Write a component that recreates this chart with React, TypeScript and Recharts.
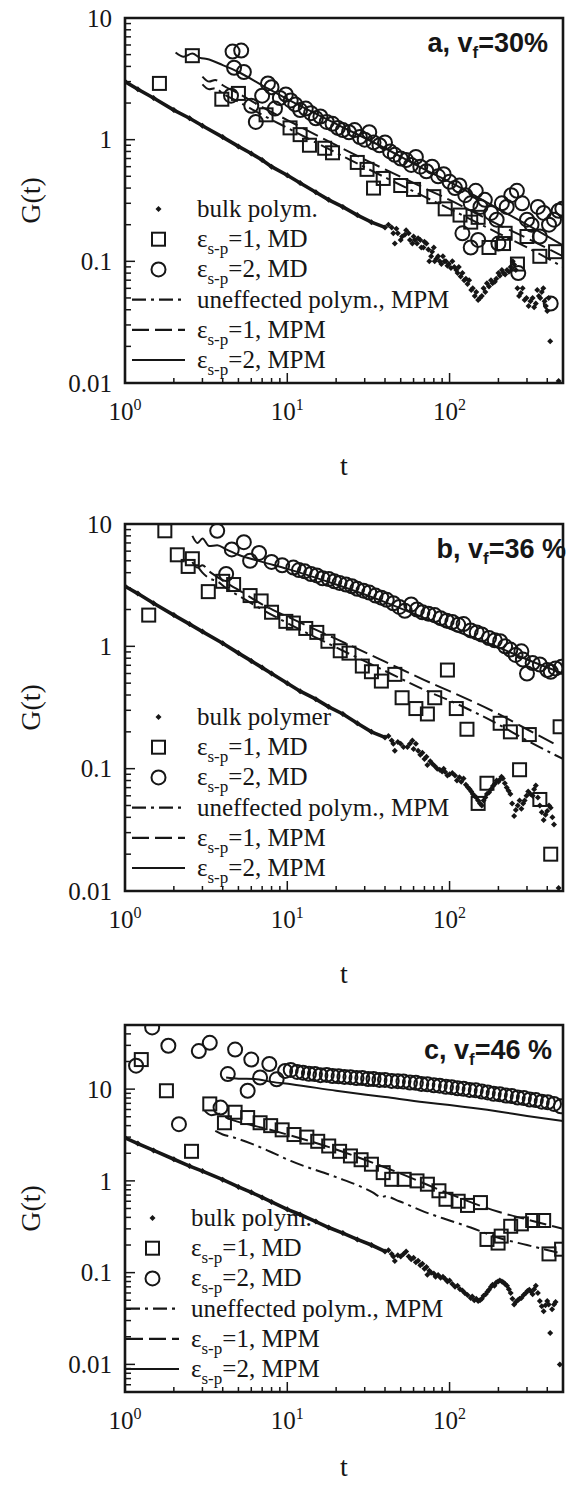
import React from "react";
import { ComposedChart, Line, Scatter, XAxis, YAxis, ReferenceArea } from "recharts";

// values, as [t, G(t)]

// ---- panel a, vf = 30% ----
const bulkLineA = [
  [1, 3.0], [1.2, 2.6], [1.5, 2.2], [2, 1.75], [2.5, 1.5], [3, 1.3], [4, 1.05], [5, 0.88],
  [6, 0.77], [7, 0.68], [8, 0.6], [10, 0.51], [12, 0.44], [15, 0.37], [18, 0.32], [22, 0.28],
  [27, 0.24], [33, 0.21], [40, 0.19],
];
const bulkDotsA = [
  [42, 0.2], [44, 0.19], [45, 0.17], [46, 0.14], [47, 0.185], [48, 0.17], [50, 0.15], [51, 0.16],
  [53, 0.165], [54, 0.18], [56, 0.17], [57, 0.15], [59, 0.14], [60, 0.16], [61, 0.15], [63, 0.14],
  [64, 0.155], [66, 0.15], [67, 0.13], [69, 0.13], [70, 0.145], [72, 0.14], [74, 0.125], [75, 0.1],
  [77, 0.11], [78, 0.12], [80, 0.13], [81, 0.1], [83, 0.105], [85, 0.11], [87, 0.1], [89, 0.095],
  [91, 0.11], [93, 0.1], [95, 0.1], [97, 0.092], [99, 0.095], [102, 0.088], [104, 0.1], [107, 0.09],
  [110, 0.085], [112, 0.08], [114, 0.09], [117, 0.075], [120, 0.08], [123, 0.07], [126, 0.072],
  [129, 0.065], [132, 0.07], [136, 0.058], [139, 0.06], [143, 0.052], [146, 0.056], [150, 0.048],
  [154, 0.05], [158, 0.052], [162, 0.06], [166, 0.056], [170, 0.066], [175, 0.062], [180, 0.07],
  [184, 0.066], [190, 0.068], [194, 0.072], [200, 0.08], [204, 0.076], [210, 0.085], [215, 0.08],
  [220, 0.078], [226, 0.085], [232, 0.082], [238, 0.09], [245, 0.1], [250, 0.094], [256, 0.085],
  [262, 0.06], [268, 0.052], [275, 0.055], [282, 0.06], [290, 0.048], [298, 0.05], [307, 0.043],
  [315, 0.047], [325, 0.05], [332, 0.042], [340, 0.045], [347, 0.058], [355, 0.052], [362, 0.05],
  [370, 0.056], [378, 0.06], [385, 0.047], [392, 0.043], [400, 0.039], [408, 0.05], [417, 0.022],
  [470, 0.0104],
];
const squaresA = [
  [1.63, 2.9], [2.6, 4.9], [3.95, 2.15], [5.0, 2.4], [7.4, 1.6], [10.4, 1.25], [12, 1.1], [13.7, 0.9],
  [17, 0.85], [19, 0.78], [27, 0.65], [31, 0.57], [34, 0.4], [39, 0.48], [50, 0.42], [60, 0.39],
  [80, 0.34], [94, 0.27], [116, 0.24], [135, 0.21], [150, 0.23], [175, 0.13], [215, 0.14], [220, 0.17],
  [262, 0.095], [300, 0.16], [360, 0.11], [450, 0.12],
];
const circlesA = [
  [4.6, 5.3], [5.2, 5.4], [4.7, 3.9], [5.4, 3.6], [4.5, 2.3], [6.0, 1.9], [6.4, 1.4], [7.0, 2.3],
  [7.6, 2.9], [8.0, 2.7], [8.4, 1.8], [9.0, 2.2], [9.8, 2.35], [10.5, 2.1], [11.2, 1.95], [12, 1.75],
  [13, 1.8], [14, 1.65], [15, 1.5], [16, 1.55], [17.5, 1.4], [19, 1.35], [20.5, 1.25], [22, 1.2],
  [24, 1.15], [26, 1.2], [28, 1.05], [30, 1.0], [32, 1.15], [34, 0.95], [37, 0.9], [40, 0.95],
  [43, 0.8], [46, 0.75], [50, 0.7], [54, 0.68], [58, 0.62], [62, 0.72], [66, 0.6], [72, 0.55],
  [78, 0.6], [85, 0.5], [92, 0.52], [100, 0.45], [108, 0.4], [115, 0.42], [125, 0.35], [135, 0.3],
  [145, 0.38], [155, 0.28], [165, 0.32], [180, 0.25], [195, 0.22], [210, 0.3], [225, 0.28],
  [240, 0.35], [260, 0.38], [280, 0.3], [300, 0.22], [320, 0.2], [350, 0.28], [380, 0.25],
  [410, 0.2], [440, 0.22], [470, 0.26], [495, 0.27], [120, 0.17], [135, 0.13], [150, 0.15],
  [200, 0.14], [265, 0.08], [360, 0.16], [420, 0.045],
];
const solidA = [
  [2.05, 5.2], [2.3, 4.8], [2.6, 5.1], [2.9, 4.7], [3.2, 4.6], [4, 4.1], [5, 3.6], [7, 2.8],
  [10, 2.15], [20, 1.35], [40, 0.85], [70, 0.57], [100, 0.45], [200, 0.27], [300, 0.2], [500, 0.135],
];
const dashedA = [
  [3.0, 3.3], [3.3, 3.0], [3.6, 3.1], [4, 2.8], [5, 2.4], [7, 1.85], [10, 1.45], [20, 0.9],
  [40, 0.57], [70, 0.4], [100, 0.32], [200, 0.2], [300, 0.155], [500, 0.11],
];
const dashDotA = [
  [3.0, 2.85], [3.3, 2.6], [3.6, 2.65], [4, 2.4], [5, 2.05], [7, 1.6], [10, 1.25], [20, 0.78],
  [40, 0.49], [70, 0.34], [100, 0.27], [200, 0.17], [300, 0.13], [500, 0.09],
];

// ---- panel b, vf = 36 % ----
const bulkLineB = [
  [1, 3.1], [1.2, 2.7], [1.5, 2.25], [2, 1.8], [2.5, 1.52], [3, 1.32], [4, 1.06], [5, 0.88],
  [6, 0.76], [7, 0.67], [8, 0.6], [10, 0.5], [12, 0.43], [15, 0.37], [18, 0.32], [22, 0.28],
  [27, 0.235], [33, 0.2], [40, 0.18],
];
const bulkDotsB = [
  [42, 0.185], [44, 0.17], [45, 0.16], [46, 0.14], [48, 0.165], [50, 0.16], [52, 0.15], [55, 0.15],
  [57, 0.16], [59, 0.17], [60, 0.145], [62, 0.16], [64, 0.14], [66, 0.13], [68, 0.135], [70, 0.12],
  [72, 0.125], [73, 0.107], [76, 0.115], [78, 0.11], [81, 0.105], [84, 0.1], [87, 0.098], [90, 0.095],
  [92, 0.1], [94, 0.094], [97, 0.088], [100, 0.09], [104, 0.092], [108, 0.088], [111, 0.08],
  [115, 0.085], [118, 0.078], [122, 0.083], [126, 0.074], [130, 0.07], [133, 0.068], [136, 0.065],
  [139, 0.062], [142, 0.06], [146, 0.058], [150, 0.055], [154, 0.052], [158, 0.05], [162, 0.055],
  [166, 0.058], [170, 0.062], [175, 0.064], [180, 0.068], [185, 0.072], [190, 0.075], [195, 0.08],
  [200, 0.078], [205, 0.082], [209, 0.086], [213, 0.083], [219, 0.076], [225, 0.07], [231, 0.066],
  [237, 0.062], [243, 0.052], [250, 0.041], [256, 0.046], [263, 0.05], [270, 0.055], [277, 0.047],
  [284, 0.052], [290, 0.055], [298, 0.06], [305, 0.065], [315, 0.062], [325, 0.06], [332, 0.068],
  [340, 0.073], [350, 0.058], [360, 0.05], [370, 0.044], [380, 0.038], [390, 0.042], [400, 0.045],
  [410, 0.05], [420, 0.048], [430, 0.04], [440, 0.035], [470, 0.0106],
];
const squaresB = [
  [1.4, 1.8], [1.76, 8.8], [2.1, 5.6], [2.6, 5.2], [2.45, 4.5], [3.26, 2.8], [4.0, 3.4], [4.67, 3.2],
  [5.9, 2.6], [6.9, 2.35], [8.0, 1.9], [9.8, 1.6], [10.9, 1.55], [13, 1.4], [15.2, 1.3], [17.8, 1.1],
  [21.2, 0.92], [24, 0.88], [29, 0.69], [33, 0.62], [38, 0.52], [46, 0.59], [51, 0.38], [62, 0.31],
  [73, 0.28], [81, 0.38], [97, 0.64], [110, 0.31], [128, 0.21], [150, 0.052], [170, 0.076],
  [205, 0.235], [237, 0.2], [270, 0.098], [310, 0.19], [360, 0.056], [420, 0.02], [480, 0.22],
];
const circlesB = [
  [3.7, 8.8], [4.2, 3.9], [4.55, 6.2], [5.4, 7.1], [5.9, 5.0], [6.7, 5.8], [8, 4.9], [9.3, 4.6],
  [10.9, 4.4], [11.8, 4.2], [12.8, 4.1], [14, 3.9], [15.2, 3.8], [16.5, 3.6], [18, 3.55], [19.5, 3.4],
  [21, 3.3], [23, 3.2], [25, 3.1], [27, 2.95], [29.5, 2.85], [32, 2.75], [35, 2.6], [38, 2.5],
  [41, 2.4], [45, 2.25], [49, 2.1], [53, 1.95], [58, 2.2], [63, 2.0], [68, 1.9], [74, 1.85],
  [81, 1.8], [88, 1.7], [96, 1.62], [104, 1.58], [113, 1.5], [122, 1.52], [135, 1.35], [147, 1.3],
  [158, 1.25], [175, 1.17], [190, 1.12], [205, 1.1], [220, 1.0], [237, 0.94], [255, 0.85],
  [277, 0.91], [283, 0.78], [300, 0.6], [325, 0.73], [360, 0.71], [400, 0.64], [420, 0.62],
  [450, 0.66], [490, 0.68],
];
const solidB = [
  [2.6, 8.0], [2.8, 7.0], [3.0, 7.6], [3.3, 6.6], [3.7, 6.7], [4.2, 6.2], [5, 5.6], [7, 4.9],
  [10, 4.3], [20, 3.2], [40, 2.3], [70, 1.7], [100, 1.4], [200, 0.98], [300, 0.78], [500, 0.6],
];
const dashedB = [
  [2.6, 4.9], [2.8, 4.4], [3.0, 4.6], [3.3, 4.1], [3.7, 3.7], [4.2, 3.3], [5, 2.9], [7, 2.2],
  [10, 1.75], [20, 1.15], [40, 0.75], [70, 0.53], [100, 0.43], [200, 0.28], [300, 0.21], [460, 0.155],
];
const dashDotB = [
  [2.8, 4.5], [3.0, 4.0], [3.3, 3.6], [3.7, 3.4], [4.2, 3.0], [5, 2.6], [7, 2.0], [10, 1.55],
  [20, 0.98], [40, 0.63], [70, 0.44], [100, 0.36], [200, 0.23], [300, 0.17], [500, 0.12],
];

// ---- panel c, vf = 46 % ----
const bulkLineC = [
  [1, 2.95], [1.2, 2.55], [1.5, 2.15], [2, 1.72], [2.5, 1.45], [3, 1.28], [4, 1.03], [5, 0.86],
  [6, 0.75], [7, 0.66], [8, 0.59], [10, 0.49], [12, 0.43], [15, 0.36], [18, 0.31], [22, 0.27],
  [27, 0.23], [33, 0.2], [40, 0.17],
];
const bulkDotsC = [
  [42, 0.175], [44, 0.16], [45, 0.15], [46, 0.134], [48, 0.155], [50, 0.15], [52, 0.16], [54, 0.17],
  [56, 0.15], [58, 0.14], [60, 0.145], [62, 0.13], [64, 0.135], [66, 0.12], [68, 0.125], [70, 0.11],
  [72, 0.115], [73, 0.095], [75, 0.105], [77, 0.1], [80, 0.098], [82, 0.09], [85, 0.094], [88, 0.088],
  [91, 0.09], [94, 0.085], [97, 0.08], [100, 0.082], [104, 0.075], [108, 0.07], [112, 0.072],
  [116, 0.066], [120, 0.064], [124, 0.06], [129, 0.057], [135, 0.053], [138, 0.055], [142, 0.05],
  [146, 0.052], [150, 0.049], [154, 0.05], [158, 0.052], [162, 0.056], [167, 0.058], [171, 0.062],
  [175, 0.065], [180, 0.07], [184, 0.074], [189, 0.072], [194, 0.078], [199, 0.08], [204, 0.082],
  [210, 0.08], [215, 0.078], [220, 0.075], [226, 0.072], [232, 0.066], [238, 0.06], [244, 0.052],
  [250, 0.045], [256, 0.048], [263, 0.05], [270, 0.052], [277, 0.053], [286, 0.057], [295, 0.06],
  [302, 0.063], [310, 0.065], [318, 0.062], [325, 0.058], [332, 0.066], [340, 0.072], [350, 0.06],
  [360, 0.049], [370, 0.043], [380, 0.038], [390, 0.044], [400, 0.049], [408, 0.045], [417, 0.022],
  [428, 0.04], [440, 0.045], [450, 0.048], [478, 0.01],
];
const squaresC = [
  [1.26, 21], [1.8, 9.6], [2.57, 2.1], [3.33, 6.9], [4.1, 4.3], [4.77, 5.6], [5.7, 4.9], [6.8, 4.3],
  [7.9, 4.0], [9.3, 3.6], [11, 3.2], [13.2, 3.0], [15.4, 2.7], [18, 2.4], [21, 2.1], [24.5, 1.87],
  [28.5, 1.7], [33, 1.52], [39, 1.23], [44, 1.04], [52.5, 1.04], [63, 1.0], [73, 0.92], [86, 0.78],
  [95, 0.63], [113, 0.6], [129, 0.54], [155, 0.58], [170, 0.23], [199, 0.21], [208, 0.25],
  [238, 0.32], [277, 0.34], [325, 0.37], [380, 0.37], [410, 0.16], [490, 0.18],
];
const circlesC = [
  [1.17, 18], [1.47, 47], [1.85, 29.7], [2.15, 4.15], [2.85, 26], [3.33, 32], [3.88, 6.3], [4.3, 14.6],
  [4.77, 27], [5.7, 9.6], [6.0, 21], [6.8, 13.4], [7.75, 18.8], [8.6, 12.8], [9.7, 15.8], [10.5, 16.2],
  [11.5, 15.4], [12.5, 15.1], [13.6, 14.7], [14.8, 14.6], [16, 14.2], [17.5, 14.3], [19, 13.9],
  [20.7, 13.8], [22.5, 13.6], [24.5, 13.5], [26.7, 13.2], [29, 13.2], [31.5, 12.9], [34, 12.9],
  [37, 12.6], [40, 12.6], [44, 12.3], [48, 12.2], [52, 12.1], [57, 11.8], [62, 11.7], [67, 11.4],
  [73, 11.3], [80, 11.0], [87, 10.9], [95, 10.6], [103, 10.5], [112, 10.2], [122, 10.1], [133, 9.8],
  [145, 9.7], [158, 9.4], [172, 9.2], [187, 8.9], [204, 8.8], [222, 8.5], [242, 8.4], [263, 8.1],
  [287, 8.0], [312, 7.7], [340, 7.6], [370, 7.3], [403, 7.2], [440, 6.9], [485, 6.5],
];
const solidC = [
  [4.2, 13.4], [5, 13.0], [6.3, 12.9], [8, 12.0], [10.6, 11.3], [20, 9.6], [40, 8.2], [70, 7.2],
  [100, 6.7], [200, 5.7], [300, 5.1], [500, 4.5],
];
const dashedC = [
  [3.1, 5.8], [3.4, 5.2], [3.8, 5.4], [4.3, 4.8], [5, 4.4], [7, 3.8], [10, 3.2], [20, 2.2],
  [30, 1.7], [50, 1.2], [100, 0.72], [200, 0.46], [300, 0.38], [500, 0.3],
];
const dashDotC = [
  [3.6, 3.5], [4, 3.2], [4.6, 3.0], [6, 2.55], [8, 2.05], [10.5, 1.65], [20, 1.1], [29, 0.85],
  [34, 0.74], [36, 0.69], [38, 0.66], [40, 0.68], [49, 0.6], [70, 0.46], [100, 0.37], [135, 0.31],
  [200, 0.24], [300, 0.2], [500, 0.16],
];

// ---- axes ----
const xTicks = [1, 2, 3, 4, 5, 6, 7, 8, 9, 10, 20, 30, 40, 50, 60, 70, 80, 90, 100, 200, 300, 400, 500];
const xMajor: Record<string, string> = { "1": "0", "10": "1", "100": "2" };
const yTicksAB = [
  0.01, 0.02, 0.03, 0.04, 0.05, 0.06, 0.07, 0.08, 0.09, 0.1, 0.2, 0.3, 0.4, 0.5, 0.6, 0.7, 0.8, 0.9,
  1, 2, 3, 4, 5, 6, 7, 8, 9, 10,
];
const yTicksC = [0.005, 0.006, 0.007, 0.008, 0.009, ...yTicksAB, 20, 30, 40, 50];
const yMajor: Record<string, string> = { "0.01": "0.01", "0.1": "0.1", "1": "1", "10": "10" };

const SERIF = "'Liberation Serif', 'Times New Roman', serif";
const SANS = "'Liberation Sans', Arial, sans-serif";
const INK = "#161616";

const toPts = (rows: number[][]) => rows.map(([t, g]) => ({ t, g }));

function XTick({ x, y, payload }: any) {
  const exp = xMajor[String(payload.value)];
  const major = exp !== undefined;
  return (
    <g>
      <line x1={x} x2={x} y1={y} y2={y - (major ? 10 : 5)} stroke={INK} strokeWidth={1.5} />
      {major && (
        <text x={x} y={y + 37} textAnchor="middle" fontFamily={SERIF} fontSize={25} fill={INK}>
          10<tspan dy={-10} fontSize={16}>{exp}</tspan>
        </text>
      )}
    </g>
  );
}

function YTick({ x, y, payload }: any) {
  const label = yMajor[String(payload.value)];
  const major = label !== undefined;
  return (
    <g>
      <line x1={x} x2={x + (major ? 10 : 6)} y1={y} y2={y} stroke={INK} strokeWidth={1.5} />
      {major && (
        <text x={x - 13} y={y} dy="0.35em" textAnchor="end" fontFamily={SERIF} fontSize={25} fill={INK}>
          {label}
        </text>
      )}
    </g>
  );
}

const SquareShape = (p: any) => (
  <rect x={p.cx - 6.5} y={p.cy - 6.5} width={13} height={13} fill="none" stroke={INK} strokeWidth={2} />
);
const CircleShape = (p: any) => <circle cx={p.cx} cy={p.cy} r={7} fill="none" stroke={INK} strokeWidth={2} />;
const DiamondShape = (p: any) => (
  <path
    d={`M${p.cx},${p.cy - 3}L${p.cx + 3},${p.cy}L${p.cx},${p.cy + 3}L${p.cx - 3},${p.cy}Z`}
    fill={INK}
  />
);

const DASHED = "17 6";
const DASH_DOT = "14 5 3 5";

const panels = [
  {
    id: "a", vf: "30%", bulkLabel: "bulk polym.", yDomain: [0.01, 10], yTicks: yTicksAB,
    bulkLine: bulkLineA, bulkDots: bulkDotsA, squares: squaresA, circles: circlesA,
    solid: solidA, dashed: dashedA, dashDot: dashDotA,
    top: 18, boxH: 365, titleEnd: 548, legendShift: 0, tGap: 92,
  },
  {
    id: "b", vf: "36 %", bulkLabel: "bulk polymer", yDomain: [0.01, 10], yTicks: yTicksAB,
    bulkLine: bulkLineB, bulkDots: bulkDotsB, squares: squaresB, circles: circlesB,
    solid: solidB, dashed: dashedB, dashDot: dashDotB,
    top: 524, boxH: 367, titleEnd: 566, legendShift: 0, tGap: 92,
  },
  {
    id: "c", vf: "46 %", bulkLabel: "bulk polym.", yDomain: [0.005, 50], yTicks: yTicksC,
    bulkLine: bulkLineC, bulkDots: bulkDotsC, squares: squaresC, circles: circlesC,
    solid: solidC, dashed: dashedC, dashDot: dashDotC,
    top: 1025, boxH: 367, titleEnd: 552, legendShift: -6, tGap: 84,
  },
];

const LEFT = 125;
const RIGHT = 563;
const PAD_TOP = 18;
const X_AXIS_H = 97;

function Eps({ n, what }: { n: string; what: string }) {
  return (
    <>
      ε<tspan dy={7} fontSize={17}>s-p</tspan>
      <tspan dy={-7}>={n}, {what}</tspan>
    </>
  );
}

function PanelLegend({ bottom, shift, bulkLabel }: { bottom: number; shift: number; bulkLabel: string }) {
  const sx1 = 132 + shift;
  const sx2 = 185 + shift;
  const mx = (sx1 + sx2) / 2;
  const tx = 197 + shift;
  const row = (k: number) => bottom - 174 + 30.2 * k;
  const txt = { fontFamily: SERIF, fontSize: 25, fill: INK } as const;
  return (
    <g>
      <DiamondShape cx={mx} cy={row(0)} />
      <text x={tx} y={row(0) + 8} {...txt}>{bulkLabel}</text>
      <SquareShape cx={mx} cy={row(1)} />
      <text x={tx} y={row(1) + 8} {...txt}><Eps n="1" what="MD" /></text>
      <CircleShape cx={mx} cy={row(2)} />
      <text x={tx} y={row(2) + 8} {...txt}><Eps n="2" what="MD" /></text>
      <line x1={sx1} x2={sx2} y1={row(3)} y2={row(3)} stroke={INK} strokeWidth={2.2} strokeDasharray={DASH_DOT} />
      <text x={tx} y={row(3) + 8} {...txt}>uneffected polym., MPM</text>
      <line x1={sx1} x2={sx2} y1={row(4)} y2={row(4)} stroke={INK} strokeWidth={2.2} strokeDasharray={DASHED} />
      <text x={tx} y={row(4) + 8} {...txt}><Eps n="1" what="MPM" /></text>
      <line x1={sx1} x2={sx2} y1={row(5)} y2={row(5)} stroke={INK} strokeWidth={2.2} />
      <text x={tx} y={row(5) + 8} {...txt}><Eps n="2" what="MPM" /></text>
    </g>
  );
}

function Panel({ p }: { p: (typeof panels)[number] }) {
  const height = PAD_TOP + p.boxH + X_AXIS_H;
  const bottom = PAD_TOP + p.boxH;
  return (
    <div style={{ position: "absolute", left: 0, top: p.top - PAD_TOP, width: 570, height }}>
      <ComposedChart width={570} height={height} margin={{ top: PAD_TOP, right: 570 - RIGHT, bottom: 0, left: 0 }}>
        <XAxis
          dataKey="t" type="number" scale="log" domain={[1, 500]} ticks={xTicks} interval={0}
          allowDataOverflow tick={<XTick />} tickLine={false} axisLine={false} tickSize={0} tickMargin={0}
          height={X_AXIS_H}
        />
        <YAxis
          dataKey="g" type="number" scale="log" domain={p.yDomain} ticks={p.yTicks} interval={0}
          allowDataOverflow tick={<YTick />} tickLine={false} axisLine={false} tickSize={0} tickMargin={0}
          width={LEFT}
        />
        <Line data={toPts(p.bulkLine)} dataKey="g" stroke={INK} strokeWidth={3.6} dot={false} type="linear" isAnimationActive={false} />
        <Scatter data={toPts(p.bulkLine)} dataKey="g" shape={DiamondShape} isAnimationActive={false} />
        <Scatter data={toPts(p.bulkDots)} dataKey="g" shape={DiamondShape} isAnimationActive={false} />
        <Line data={toPts(p.dashDot)} dataKey="g" stroke={INK} strokeWidth={2} strokeDasharray={DASH_DOT} dot={false} type="monotone" isAnimationActive={false} />
        <Line data={toPts(p.dashed)} dataKey="g" stroke={INK} strokeWidth={2} strokeDasharray={DASHED} dot={false} type="monotone" isAnimationActive={false} />
        <Line data={toPts(p.solid)} dataKey="g" stroke={INK} strokeWidth={2} dot={false} type="monotone" isAnimationActive={false} />
        <Scatter data={toPts(p.squares)} dataKey="g" shape={SquareShape} isAnimationActive={false} />
        <Scatter data={toPts(p.circles)} dataKey="g" shape={CircleShape} isAnimationActive={false} />
        <ReferenceArea x1={1} x2={500} y1={p.yDomain[0]} y2={p.yDomain[1]} fill="none" fillOpacity={0} stroke={INK} strokeWidth={2.6} ifOverflow="visible" />
      </ComposedChart>
      <svg
        width={570}
        height={height + 20}
        style={{ position: "absolute", left: 0, top: 0, pointerEvents: "none", overflow: "visible" }}
      >
        <PanelLegend bottom={bottom} shift={p.legendShift} bulkLabel={p.bulkLabel} />
        <text x={p.titleEnd} y={PAD_TOP + 34} textAnchor="end" fontFamily={SANS} fontWeight="bold" fontSize={27} fill={INK}>
          {p.id}, v<tspan dy={6} fontSize={17}>f</tspan>
          <tspan dy={-6}>={p.vf}</tspan>
        </text>
        <text
          transform={`translate(40, ${PAD_TOP + p.boxH / 2}) rotate(-90)`}
          textAnchor="middle" fontFamily={SERIF} fontSize={28} fill={INK}
        >
          G(t)
        </text>
        <text x={(LEFT + RIGHT) / 2} y={bottom + p.tGap} textAnchor="middle" fontFamily={SERIF} fontSize={28} fill={INK}>
          t
        </text>
      </svg>
    </div>
  );
}

export default function App() {
  return (
    <div style={{ position: "absolute", left: 0, top: 0, width: 570, height: 1485, background: "#fff", overflow: "hidden" }}>
      {panels.map((p) => (
        <Panel key={p.id} p={p} />
      ))}
    </div>
  );
}
